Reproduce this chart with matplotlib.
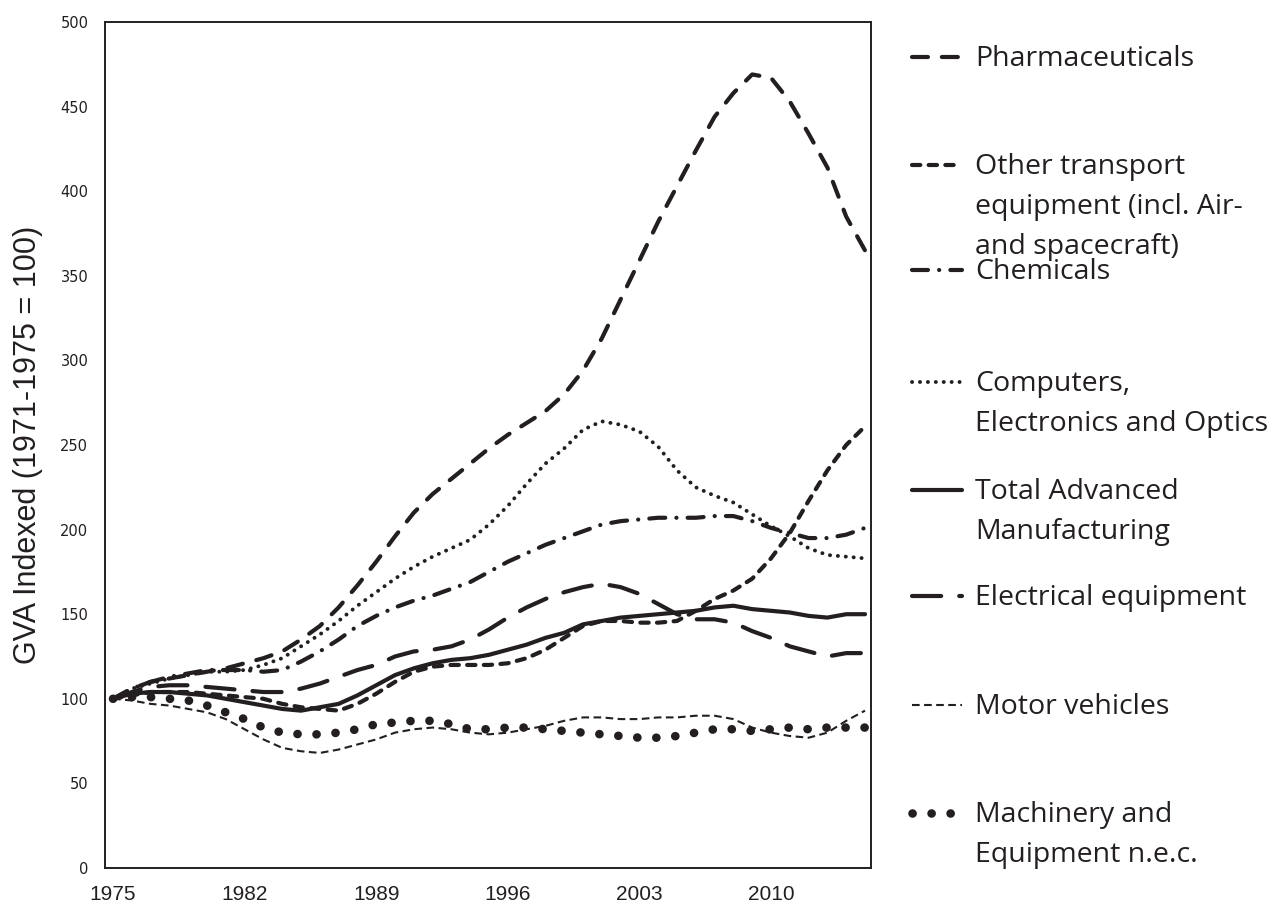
import numpy as np
import matplotlib.pyplot as plt
from matplotlib.lines import Line2D

plt.rcParams['lines.scale_dashes'] = False

years = np.arange(1975, 2016)

pharma = [100, 106, 110, 112, 114, 116, 118, 121, 124, 128,
          135, 143, 154, 167, 181, 196, 210, 221, 230, 239,
          248, 256, 263, 270, 280, 294, 313, 336, 359, 382,
          403, 424, 444, 458, 469, 467, 453, 434, 414, 385,
          365]
other_transport = [100, 102, 104, 104, 104, 103, 102, 101, 100, 97,
                   95, 94, 93, 97, 103, 110, 116, 119, 120, 120,
                   120, 121, 124, 129, 136, 143, 146, 146, 145, 145,
                   146, 152, 159, 164, 171, 183, 198, 217, 235, 250,
                   261]
chemicals = [100, 106, 110, 113, 115, 117, 117, 117, 116, 117,
             122, 128, 135, 143, 149, 154, 158, 161, 165, 169,
             175, 181, 186, 191, 195, 199, 203, 205, 206, 207,
             207, 207, 208, 208, 205, 201, 198, 195, 195, 197,
             201]
computers = [100, 106, 109, 112, 114, 116, 116, 117, 120, 124,
             131, 138, 146, 155, 163, 171, 178, 184, 189, 194,
             203, 214, 227, 239, 248, 259, 264, 262, 258, 249,
             235, 225, 220, 216, 209, 202, 196, 189, 185, 184,
             183]
total = [100, 103, 104, 104, 103, 102, 100, 98, 96, 94,
         93, 95, 97, 102, 108, 114, 118, 121, 123, 124,
         126, 129, 132, 136, 139, 144, 146, 148, 149, 150,
         151, 152, 154, 155, 153, 152, 151, 149, 148, 150,
         150]
electrical = [100, 104, 107, 108, 108, 107, 106, 105, 104, 104,
              106, 109, 113, 117, 120, 125, 128, 129, 131, 135,
              141, 148, 154, 159, 163, 166, 168, 166, 162, 156,
              150, 147, 147, 145, 140, 136, 131, 128, 125, 127,
              127]
motor = [100, 99, 97, 96, 94, 92, 88, 82, 76, 71,
         69, 68, 70, 73, 76, 80, 82, 83, 82, 80,
         79, 80, 82, 84, 87, 89, 89, 88, 88, 89,
         89, 90, 90, 88, 83, 80, 78, 77, 80, 87,
         93]
machinery = [100, 101, 101, 100, 99, 96, 92, 88, 83, 80,
             79, 79, 80, 82, 85, 86, 87, 87, 85, 82,
             82, 83, 83, 82, 81, 80, 79, 78, 77, 77,
             78, 80, 82, 82, 81, 82, 83, 82, 83, 83,
             83]

labels = [['Pharmaceuticals'],
          ['Other transport', 'equipment (incl. Air-', 'and spacecraft)'],
          ['Chemicals'],
          ['Computers,', 'Electronics and Optics'],
          ['Total Advanced', 'Manufacturing'],
          ['Electrical equipment'],
          ['Motor vehicles'],
          ['Machinery and', 'Equipment n.e.c.']]
series = [pharma, other_transport, chemicals, computers, total,
          electrical, motor, machinery]

col = '#231f20'
styles = [dict(lw=3.0, dashes=(11.5, 10), dash_capstyle='round'),
          dict(lw=3.0, dashes=(6, 6), dash_capstyle='round'),
          dict(lw=3.0, dashes=(11.5, 8, 0.1, 8), dash_capstyle='round'),
          dict(lw=2.8, dashes=(0.1, 5.6), dash_capstyle='round'),
          dict(lw=3.0, ls='-', solid_capstyle='round'),
          dict(lw=3.0, dashes=(21, 13), dash_capstyle='round'),
          dict(lw=1.5, dashes=(5.5, 3.2), dash_capstyle='butt'),
          dict(lw=6.2, dashes=(0.1, 13.6), dash_capstyle='round')]

W, H = 1279, 911
fig = plt.figure(figsize=(W / 100, H / 100), dpi=100)
ax = fig.add_axes([105 / W, 1 - 868 / H, 766 / W, 846 / H])

for s, st in zip(series, styles):
    ax.plot(years, s, color=col, **st)

ax.set_xlim(1975 - 8 / 18.8, 2015 + 6 / 18.8)
ax.set_ylim(0, 500)
ax.set_yticks(np.arange(0, 501, 50))
ax.set_xticks(np.arange(1975, 2011, 7))
ax.tick_params(axis='y', length=0, pad=12, labelsize=10.5, labelcolor=col)
ax.tick_params(axis='x', length=0, pad=12, labelsize=15, labelcolor=col)
for t in ax.get_xticklabels():
    t.set_family('Liberation Sans')
for sp in ax.spines.values():
    sp.set_linewidth(1.4)
    sp.set_color(col)

fig.text(28 / W, 1 - 445 / H, 'GVA Indexed (1971-1975 = 100)', rotation=90,
         ha='center', va='center', fontsize=22, color=col,
         family='Liberation Sans')

# legend, drawn by hand to keep Excel's spacing
leg_y = [57, 165, 270, 382, 490, 596, 705, 813]
for lab, st, y in zip(labels, styles, leg_y):
    fy = 1 - y / H
    fig.add_artist(Line2D([912 / W, 962 / W], [fy, fy], color=col,
                          transform=fig.transFigure, **st))
    for i, line in enumerate(lab):
        fig.text(975 / W, 1 - (y + 9 + 40 * i) / H, line, ha='left',
                 va='baseline', fontsize=20.5, color=col, family='Open Sans')

fig.savefig('out.png', dpi=100)
